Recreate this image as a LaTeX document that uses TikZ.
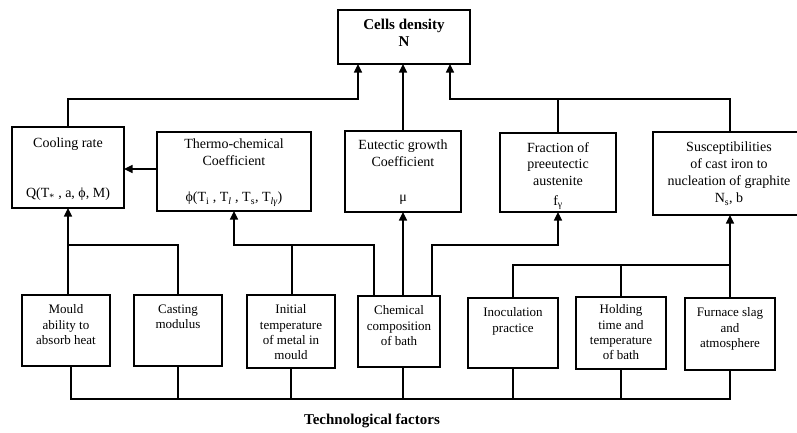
\documentclass[tikz,border=0pt]{standalone}
\usepackage{fontspec}
\setmainfont{Liberation Serif}
\usetikzlibrary{arrows.meta}
\tikzset{
  box/.style={draw, line width=1.5pt, rectangle, inner sep=0pt, outer sep=0pt},
  conn/.style={line width=1.2pt},
  arr/.style={conn, -{Triangle[length=8.5pt,width=8pt]}},
  ltxt/.style={align=center, inner sep=0pt, anchor=north, font=\fontsize{13}{15.3}\selectfont},
  utxt/.style={align=center, inner sep=0pt, anchor=north, font=\fontsize{14}{16.8}\selectfont},
  btxt/.style={align=center, inner sep=0pt, anchor=north, font=\bfseries\fontsize{15}{16.5}\selectfont},
}
\newcommand\mybox[6][]{\node[box,#1, minimum width={(#5)-(#3)}, minimum height={(#6)-(#4)}] (#2) at ({((#3)+(#5))/2},{((#4)+(#6))/2}) {};}
\begin{document}
\begin{tikzpicture}[x=1pt,y=-1pt]
\useasboundingbox (0,0) rectangle (797,432);
% boxes
\mybox[line width=2.4pt]{N}{338}{10}{470}{64}
\mybox{cool}{12}{127}{124}{208}
\mybox{thermo}{157}{132}{311}{211}
\mybox{eut}{345}{131}{461}{212}
\mybox{frac}{500}{133}{616}{212}
\mybox{sus}{653}{132}{807}{215}
\mybox{mould}{22}{295}{110}{366}
\mybox{cast}{134}{295}{222}{366}
\mybox{init}{247}{295}{335}{368}
\mybox{chem}{358}{296}{440}{367}
\mybox{inoc}{468}{298}{558}{368}
\mybox{hold}{576}{297}{666}{369}
\mybox{furn}{685}{298}{775}{370}
% texts
\node[btxt] (tN) at (404,19) {Cells density\\N};
\node[utxt] (tcool1) at (68,138) {Cooling rate};
\node[utxt] (tcool2) at (68,188) {Q(T\textsubscript{*} , a, ϕ, M)};
\node[utxt] (tth1) at (234,139) {Thermo-chemical\\Coefficient};
\node[utxt] (tth2) at (234,192) {ϕ(T\textsubscript{i} , T\textsubscript{\itshape l} , T\textsubscript{s}, T\textsubscript{\itshape lγ})};
\node[utxt] (teu1) at (403,140) {Eutectic growth\\Coefficient};
\node[utxt] (teu2) at (403,195) {μ};
\node[utxt] (tfr1) at (558,142) {Fraction of\\preeutectic\\austenite};
\node[utxt] (tfr2) at (558,195) {f\textsubscript{γ}};
\node[utxt] (tsu1) at (729,142) {Susceptibilities\\of cast iron to\\nucleation of graphite};
\node[utxt] (tsu2) at (729,193) {N\textsubscript{s}, b};
\node[ltxt] (tmo) at (66,304.5) {Mould\\ability to\\absorb heat};
\node[ltxt] (tca) at (178,304.5) {Casting\\modulus};
\node[ltxt] (tin) at (291,304.5) {Initial\\temperature\\of metal in\\mould};
\node[ltxt] (tch) at (399,305.5) {Chemical\\composition\\of bath};
\node[ltxt] (tio) at (513,307.5) {Inoculation\\practice};
\node[ltxt] (tho) at (621,304.5) {Holding\\time and\\temperature\\of bath};
\node[ltxt] (tfu) at (730,307.5) {Furnace slag\\and\\atmosphere};
\node[font=\bfseries\fontsize{15}{17}\selectfont, inner sep=0pt] (tech) at (372,421) {Technological factors};
% connectors to N
\draw[arr] (cool.north) |- (358,99) -- (358,99 |- N.south);
\draw[arr] (eut.north) -- (eut.north |- N.south);
\draw[arr] (sus.north) |- (450,99) -- (450,99 |- N.south);
\draw[conn] (frac.north) -- (frac.north |- 0,99);
% thermo -> cool
\draw[arr] (thermo.west |- 0,169) -- (cool.east |- 0,169);
% lower to upper
\draw[arr] (cool.south |- mould.north) -- (cool.south);
\draw[conn] (cool.south |- 0,245) -| (cast.north);
\draw[arr] (374,0 |- chem.north) |- (thermo.south |- 0,245) -- (thermo.south);
\draw[conn] (292,0 |- init.north) -- (292,245);
\draw[arr] (eut.south |- chem.north) -- (eut.south);
\draw[arr] (432,0 |- chem.north) |- (frac.south |- 0,245) -- (frac.south);
\draw[arr] (inoc.north) |- (sus.south |- 0,265) -- (sus.south);
\draw[conn] (hold.north) -- (hold.north |- 0,265);
\draw[conn] (furn.north) -- (furn.north |- 0,265);
% bottom bus
\draw[conn] (71,0 |- mould.south) |- (furn.south |- 0,399) -- (furn.south);
\draw[conn] (cast.south) -- (cast.south |- 0,399);
\draw[conn] (291,0 |- init.south) -- (291,399);
\draw[conn] (403,0 |- chem.south) -- (403,399);
\draw[conn] (inoc.south) -- (inoc.south |- 0,399);
\draw[conn] (hold.south) -- (hold.south |- 0,399);
\end{tikzpicture}
\end{document}
